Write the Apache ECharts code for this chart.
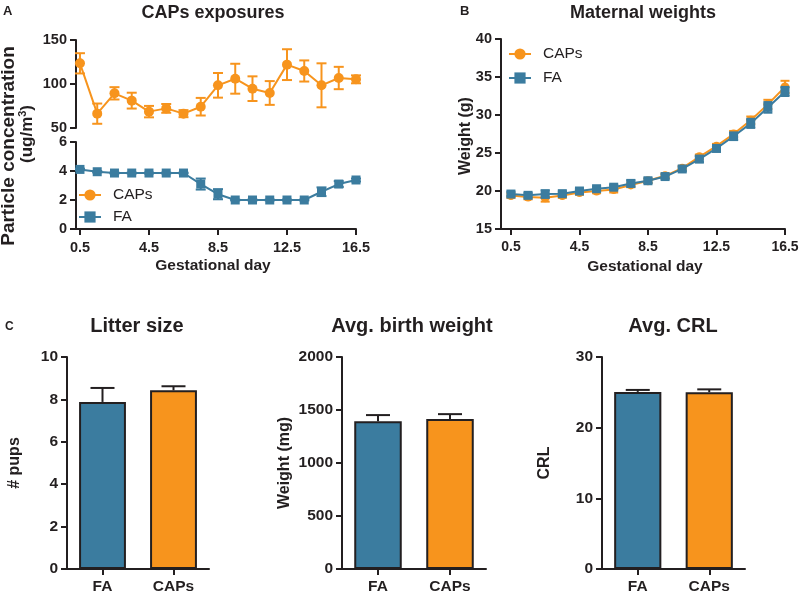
<!DOCTYPE html>
<html><head><meta charset="utf-8">
<script src="https://cdn.jsdelivr.net/npm/echarts@6/dist/echarts.min.js"></script>
<style>html,body{margin:0;padding:0;background:#fff}#c{width:800px;height:591px}</style>
</head><body><div id="c"></div>
<script>
// ---- data ----
const days = [0.5,1.5,2.5,3.5,4.5,5.5,6.5,7.5,8.5,9.5,10.5,11.5,12.5,13.5,14.5,15.5,16.5];
const dayTicks = [0.5,4.5,8.5,12.5,16.5];
const capsConc    = [123.5,66.3,89.4,81.1,68.6,72.3,66.3,74.2,98.5,106,94.7,89.8,122,114.8,98.5,106.8,105.3];
const capsConcErr = [11.5,11.5,7,9,6.5,5,4,10,14,17,14,13.5,17.5,12,25,12.7,4.5];
const faConc      = [4.11,3.95,3.86,3.86,3.86,3.86,3.86,3.1,2.4,2.0,2.0,2.0,2.0,2.0,2.57,3.1,3.38];
const faConcErr   = [0.05,0.05,0.03,0.03,0.03,0.03,0.03,0.38,0.35,0.03,0.03,0.03,0.03,0.03,0.3,0.2,0.1];
const capsWeight    = [19.4,19.2,19.1,19.4,19.8,20.0,20.2,20.8,21.35,22.0,23.0,24.5,25.9,27.5,29.3,31.4,33.7];
const capsWeightErr = [0.3,0.3,0.5,0.3,0.3,0.3,0.4,0.3,0.3,0.3,0.3,0.3,0.3,0.4,0.5,0.6,0.8];
const faWeight      = [19.6,19.43,19.6,19.65,20.0,20.3,20.5,21.0,21.35,21.9,22.9,24.2,25.6,27.2,28.9,31.0,33.1];
const faWeightErr   = [0.3,0.3,0.5,0.3,0.3,0.3,0.3,0.4,0.3,0.3,0.3,0.4,0.4,0.5,0.6,0.7,0.6];
const groups = ['FA','CAPs'];
const litter = [7.88, 8.43];
const litterErr = [0.66, 0.19];
const birthWeight = [1395, 1414];
const birthWeightErr = [57, 47];
const crl = [25.06, 25.02];
const crlErr = [0.28, 0.4];

// ---- styling ----
const ORANGE = '#F7941D', BLUE = '#3B7C9F', INK = '#231F20';
const FONT = '"Liberation Sans", Arial, sans-serif';

const chart = echarts.init(document.getElementById('c'));

function errSeries(xi, yi, data, color, capW, lw, upOnly, z) {
  return {
    type: 'custom', xAxisIndex: xi, yAxisIndex: yi, z: z, silent: true,
    encode: {x: 0, y: 1},
    data: data,
    renderItem: function (params, api) {
      const x = api.value(0), y = api.value(1), e = api.value(2);
      const t = api.coord([x, y + e]);
      const b = api.coord([x, upOnly ? y : y - e]);
      const h = capW / 2;
      const style = {stroke: color, lineWidth: lw};
      const ch = [
        {type: 'line', shape: {x1: t[0], y1: t[1], x2: b[0], y2: b[1]}, style: style},
        {type: 'line', shape: {x1: t[0] - h, y1: t[1], x2: t[0] + h, y2: t[1]}, style: style}
      ];
      if (!upOnly) ch.push({type: 'line', shape: {x1: b[0] - h, y1: b[1], x2: b[0] + h, y2: b[1]}, style: style});
      return {type: 'group', children: ch};
    }
  };
}
const tri = (xs, ys, es) => ys.map((v, i) => [xs[i], v, es[i]]);
const pairs = (xs, ys) => ys.map((v, i) => [xs[i], v]);

const axLine = {show: true, onZero: false, lineStyle: {color: INK, width: 2}};
const axTick = {show: true, length: 6, lineStyle: {color: INK, width: 2}};
function axLab(size, margin) {
  return {color: INK, fontWeight: 'bold', fontSize: size, fontFamily: FONT, margin: margin, formatter: v => String(v)};
}

function valX(grid, min, show, size) {
  return {
    type: 'value', gridIndex: grid, min: min, max: 16.5, show: show,
    axisLine: axLine, splitLine: {show: false},
    axisTick: Object.assign({}, axTick, {customValues: dayTicks}),
    axisLabel: Object.assign(axLab(size, 11), {customValues: dayTicks, formatter: v => Number(v).toFixed(1)})
  };
}
function catX(grid) {
  return {
    type: 'category', gridIndex: grid, data: groups,
    axisLine: axLine, axisTick: Object.assign({}, axTick, {alignWithLabel: true}),
    axisLabel: Object.assign(axLab(15.5, 10), {formatter: v => v}), splitLine: {show: false}
  };
}
function valY(grid, min, max, interval, size) {
  return {
    type: 'value', gridIndex: grid, min: min, max: max, interval: interval,
    axisLine: axLine, axisTick: axTick, axisLabel: axLab(size, 9), splitLine: {show: false}
  };
}

function txt(x, y, text, size, opts) {
  return Object.assign({
    type: 'text', x: x, y: y, silent: true,
    style: {text: text, fill: INK, font: 'bold ' + size + 'px ' + FONT, textAlign: 'center', textVerticalAlign: 'middle'}
  }, opts || {});
}
function letter(x, y, text, size) {
  return {type: 'text', x: x, y: y, silent: true,
    style: {text: text, fill: INK, font: 'bold ' + size + 'px ' + FONT, textAlign: 'left', textVerticalAlign: 'middle'}};
}

const legendBase = {
  orient: 'vertical', data: ['CAPs', 'FA'], itemWidth: 22, itemHeight: 14, padding: 0,
  textStyle: {color: INK, fontSize: 15.5, fontFamily: FONT, padding: [0, 0, 0, 7]}, selectedMode: false
};
const G = (o) => Object.assign({outerBoundsMode: 'none', containLabel: false}, o);

const option = {
  animation: false,
  backgroundColor: '#fff',
  grid: [
    G({left: 76, top: 40, width: 280, height: 88}),
    G({left: 76, top: 142, width: 280, height: 87}),
    G({left: 501, top: 39, width: 284, height: 190}),
    G({left: 67, top: 357, width: 142, height: 212}),
    G({left: 342, top: 357, width: 144, height: 212}),
    G({left: 602, top: 357, width: 143, height: 212})
  ],
  xAxis: [valX(0, 0.27, false, 14.5), valX(1, 0.27, true, 14.5), valX(2, -0.08, true, 14), catX(3), catX(4), catX(5)],
  yAxis: [valY(0, 50, 150, 50, 14.5), valY(1, 0, 6, 2, 14.5), valY(2, 15, 40, 5, 14.5),
          valY(3, 0, 10, 2, 15.5), valY(4, 0, 2000, 500, 15.5), valY(5, 0, 30, 10, 15.5)],
  legend: [
    Object.assign({left: 78, top: 187, itemGap: 6}, legendBase),
    Object.assign({left: 508, top: 46, itemGap: 8}, legendBase)
  ],
  graphic: [
    letter(3, 11, 'A', 13),
    txt(213, 13, 'CAPs exposures', 18),
    letter(460, 11, 'B', 13),
    txt(643, 13, 'Maternal weights', 18),
    letter(5, 327, 'C', 12),
    txt(137, 326, 'Litter size', 20),
    txt(412, 326, 'Avg. birth weight', 20),
    txt(673, 326, 'Avg. CRL', 20),
    txt(9, 146, 'Particle concentration', 19, {rotation: Math.PI / 2}),
    {type: 'text', x: 27, y: 134, rotation: Math.PI / 2, silent: true,
     style: {text: '(ug/m{sup|3})', fill: INK, font: 'bold 17px ' + FONT, textAlign: 'center', textVerticalAlign: 'middle',
             rich: {sup: {fontSize: 11, fontWeight: 'bold', fontFamily: FONT, fill: INK, verticalAlign: 'top', padding: [0, 0, 8, 0]}}}},
    txt(213, 266, 'Gestational day', 15.5),
    txt(645, 267, 'Gestational day', 15.5),
    txt(466, 136, 'Weight (g)', 16, {rotation: Math.PI / 2}),
    txt(15, 463, '# pups', 16, {rotation: Math.PI / 2}),
    txt(285, 463, 'Weight (mg)', 16, {rotation: Math.PI / 2}),
    txt(545, 463, 'CRL', 16, {rotation: Math.PI / 2})
  ],
  series: [
    // Panel A
    errSeries(0, 0, tri(days, capsConc, capsConcErr), ORANGE, 10, 2, false, 2),
    {type: 'line', name: 'CAPs', xAxisIndex: 0, yAxisIndex: 0, data: pairs(days, capsConc),
     symbol: 'circle', symbolSize: 10, lineStyle: {color: ORANGE, width: 2}, itemStyle: {color: ORANGE}, z: 3},
    errSeries(1, 1, tri(days, faConc, faConcErr), BLUE, 10, 2, false, 2),
    {type: 'line', name: 'FA', xAxisIndex: 1, yAxisIndex: 1, data: pairs(days, faConc),
     symbol: 'rect', symbolSize: 9, lineStyle: {color: BLUE, width: 2}, itemStyle: {color: BLUE}, z: 3},
    // Panel B
    errSeries(2, 2, tri(days, capsWeight, capsWeightErr), ORANGE, 9, 2, false, 2),
    {type: 'line', name: 'CAPs', xAxisIndex: 2, yAxisIndex: 2, data: pairs(days, capsWeight),
     symbol: 'circle', symbolSize: 9, lineStyle: {color: ORANGE, width: 2}, itemStyle: {color: ORANGE}, z: 3},
    errSeries(2, 2, tri(days, faWeight, faWeightErr), BLUE, 9, 2, false, 4),
    {type: 'line', name: 'FA', xAxisIndex: 2, yAxisIndex: 2, data: pairs(days, faWeight),
     symbol: 'rect', symbolSize: 9, lineStyle: {color: BLUE, width: 2}, itemStyle: {color: BLUE}, z: 5},
    // Panel C
    ...[[3, litter, litterErr], [4, birthWeight, birthWeightErr], [5, crl, crlErr]].flatMap(([g, vals, errs]) => [
      {type: 'bar', xAxisIndex: g, yAxisIndex: g, barWidth: '66%', z: 2,
       data: vals.map((v, i) => ({value: v, itemStyle: {color: i === 0 ? BLUE : ORANGE, borderColor: INK, borderWidth: 2}}))},
      errSeries(g, g, tri([0, 1], vals, errs), INK, 24, 2, true, 3)
    ])
  ]
};
chart.setOption(option);
</script>
</body></html>
